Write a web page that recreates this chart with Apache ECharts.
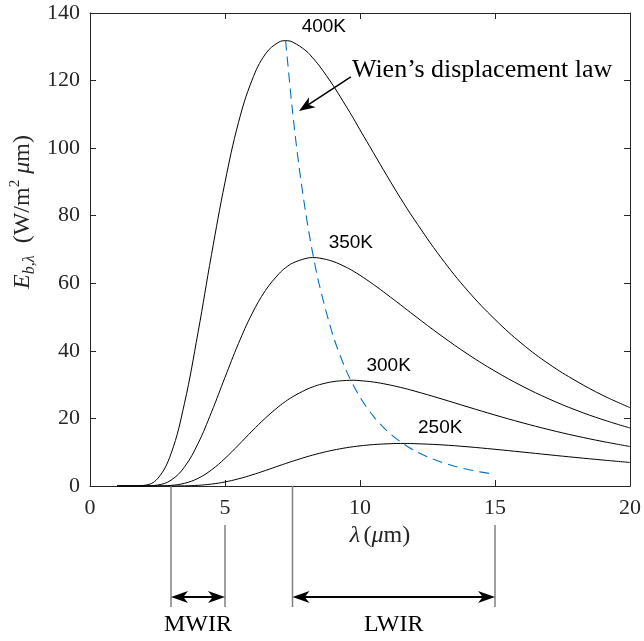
<!DOCTYPE html>
<html>
<head>
<meta charset="utf-8">
<script src="https://cdn.jsdelivr.net/npm/echarts@6/dist/echarts.min.js"></script>
<style>
html,body{margin:0;padding:0;background:#fff;}
#chart{width:644px;height:641px;}
</style>
</head>
<body>
<div id="chart"></div>
<script>
// wavelength samples (μm)
const lambda = [1, 1.5, 2, 2.5, 3, 3.5, 4, 4.5, 5, 5.5, 6, 6.5, 7, 7.25, 7.5, 8, 8.25, 8.5, 9, 9.5, 9.75, 10, 10.5, 11, 11.5, 12, 13, 14, 15, 16, 17, 18, 19, 20];
// spectral emissive power (W/m^2 μm)
const E400 = [0, 0.002, 0.18, 2.16, 9.55, 24.5, 45.4, 68.5, 89.9, 107.6, 120.1, 127.9, 131.4, 131.8, 131.4, 128.8, 126.7, 124.3, 118.6, 112.2, 108.9, 105.4, 98.6, 91.8, 85.2, 79.0, 67.6, 57.7, 49.3, 42.1, 36.1, 31.1, 26.8, 23.2];
const E350 = [0, 0, 0.014, 0.28, 1.72, 5.65, 12.57, 21.85, 32.16, 42.2, 50.96, 57.9, 62.84, 64.64, 65.95, 67.37, 67.6, 67.46, 66.47, 64.70, 63.6, 62.37, 59.65, 56.68, 53.65, 50.55, 44.55, 38.98, 33.99, 29.59, 25.77, 22.46, 19.62, 17.17];
const E300 = [0, 0, 0, 0.018, 0.176, 0.797, 2.265, 4.765, 8.17, 12.13, 16.25, 20.14, 23.58, 25.07, 26.39, 28.51, 29.33, 30.0, 30.88, 31.24, 31.3, 31.18, 30.77, 30.07, 29.19, 28.15, 25.83, 23.39, 21.0, 18.75, 16.68, 14.82, 13.16, 11.69];
const E250 = [0, 0, 0, 0, 0.007, 0.051, 0.206, 0.565, 1.20, 2.12, 3.28, 4.60, 5.98, 6.67, 7.33, 8.58, 9.15, 9.68, 10.60, 11.34, 11.63, 11.88, 12.26, 12.48, 12.6, 12.53, 12.19, 11.60, 10.86, 10.06, 9.24, 8.44, 7.68, 6.97];
// Wien's displacement law locus
const wienLambda = [7.245, 7.5, 7.75, 8, 8.25, 8.5, 9, 9.5, 10, 10.5, 11, 11.5, 12, 12.5, 13, 13.5, 14, 14.5, 14.8];
const wienE = [131.8, 110.9, 94.1, 80.3, 68.8, 59.3, 44.56, 34.0, 26.31, 20.61, 16.34, 13.08, 10.57, 8.62, 7.09, 5.87, 4.89, 4.10, 3.71];
// curve labels: [text, λ, E]
const curveLabels = [['400K', 8.66, 136], ['350K', 9.66, 72], ['300K', 11.06, 35.6], ['250K', 12.97, 17.3]];
// IR bands (μm)
const bandNames = ['MWIR', 'LWIR'];
const bandFrom = [3, 7.5];
const bandTo = [5, 15];
// Wien annotation: text anchor and arrow tail/tip in data units
const wienText = "Wien’s displacement law";
const wienTextAt = [9.7, 123.2];
const wienArrowTail = [9.66, 121.1];
const wienArrowTip = [7.74, 111];
// ticks
const xTicks = {min: 0, max: 20, interval: 5};
const yTicks = {min: 0, max: 140, interval: 20};

const pair = (xs, ys) => xs.map((x, i) => [x, ys[i]]);
const AX = '#262626';
const SERIF = '"Liberation Serif", "Times New Roman", serif';
const SANS = '"Liberation Sans", Arial, sans-serif';

const chart = echarts.init(document.getElementById('chart'), null, {renderer: 'canvas'});

function axisCommon(show, margin) {
  return {
    axisLine: {show: true, onZero: false, lineStyle: {color: AX, width: 1}},
    axisTick: {show: true, inside: true, length: 6, lineStyle: {color: AX, width: 1}},
    splitLine: {show: false},
    axisLabel: {show: show, color: AX, fontFamily: SERIF, fontSize: 22, margin: margin || 8}
  };
}

const curve = (name, ys) => ({
  name, type: 'line', data: pair(lambda, ys), showSymbol: false, symbol: 'none',
  smooth: 0.4, lineStyle: {color: '#000', width: 1}, z: 3
});

chart.setOption({
  animation: false,
  backgroundColor: '#fff',
  grid: {left: 90, right: 12, top: 13, bottom: 155, containLabel: false},
  xAxis: [
    Object.assign({type: 'value', position: 'bottom'}, xTicks, axisCommon(true, 11)),
    Object.assign({type: 'value', position: 'top'}, xTicks, axisCommon(false))
  ],
  yAxis: [
    Object.assign({type: 'value', position: 'left'}, yTicks, axisCommon(true, 10)),
    Object.assign({type: 'value', position: 'right'}, yTicks, axisCommon(false))
  ],
  series: [
    curve('400K', E400), curve('350K', E350), curve('300K', E300), curve('250K', E250),
    {name: 'Wien', type: 'line', data: pair(wienLambda, wienE), showSymbol: false, symbol: 'none',
     smooth: 0.3, lineStyle: {color: '#0072BD', width: 1.1, type: [10, 6]}, z: 4}
  ]
});

function px(p) { return chart.convertToPixel({xAxisIndex: 0, yAxisIndex: 0}, p); }

function arrowHead(tip, ang, len, half) {
  const c = Math.cos(ang), s = Math.sin(ang);
  const bx = tip[0] - c * len, by = tip[1] - s * len;
  const nx = tip[0] - c * len * 0.72, ny = tip[1] - s * len * 0.72;
  return {
    type: 'polygon', silent: true, z: 10,
    shape: {points: [tip, [bx - s * half, by + c * half], [nx, ny], [bx + s * half, by - c * half]]},
    style: {fill: '#000'}
  };
}

const g = [];
const origin = px([0, 0]);
const y0 = origin[1];

curveLabels.forEach(([t, lx, ly]) => {
  const p = px([lx, ly]);
  g.push({type: 'text', x: p[0], y: p[1], z: 10, silent: true,
    style: {text: t, fontFamily: SANS, fontSize: 19, fill: '#000', align: 'center', verticalAlign: 'middle'}});
});

const wt = px(wienTextAt);
g.push({type: 'text', x: wt[0], y: wt[1], z: 10, silent: true,
  style: {text: wienText, fontFamily: SERIF, fontSize: 26, fill: '#000', align: 'left', verticalAlign: 'middle'}});
const ta = px(wienArrowTail), tb = px(wienArrowTip);
const wang = Math.atan2(tb[1] - ta[1], tb[0] - ta[0]);
g.push({type: 'line', z: 10, silent: true,
  shape: {x1: ta[0], y1: ta[1], x2: tb[0] - Math.cos(wang) * 10, y2: tb[1] - Math.sin(wang) * 10},
  style: {stroke: '#000', lineWidth: 1.5}});
g.push(arrowHead(tb, wang, 16, 6));

bandNames.forEach((name, i) => {
  const a = px([bandFrom[i], 0])[0], b = px([bandTo[i], 0])[0];
  const yb = y0 + 121, ya = y0 + 111;
  g.push({type: 'line', z: 10, silent: true, shape: {x1: a, y1: y0, x2: a, y2: yb},
    style: {stroke: '#7f7f7f', lineWidth: 1.5}});
  g.push({type: 'line', z: 10, silent: true, shape: {x1: b, y1: y0 + 39, x2: b, y2: yb},
    style: {stroke: '#7f7f7f', lineWidth: 1.5}});
  g.push({type: 'line', z: 10, silent: true, shape: {x1: a + 10, y1: ya, x2: b - 10, y2: ya},
    style: {stroke: '#000', lineWidth: 2}});
  g.push(arrowHead([a, ya], Math.PI, 17, 6));
  g.push(arrowHead([b, ya], 0, 17, 6));
  g.push({type: 'text', x: (a + b) / 2, y: y0 + 139, z: 10, silent: true,
    style: {text: name, fontFamily: SERIF, fontSize: 24, fill: '#000', align: 'center', verticalAlign: 'middle'}});
});

g.push({type: 'text', x: 380, y: y0 + 50, z: 10, silent: true,
  style: {
    text: '{i|λ} {n|(}{i|μ}{n|m)}',
    align: 'center', verticalAlign: 'middle',
    rich: {
      i: {fontFamily: SERIF, fontStyle: 'italic', fontSize: 24, fill: AX},
      n: {fontFamily: SERIF, fontSize: 24, fill: AX}
    }
  }});
g.push({type: 'text', x: 23, y: 212, rotation: Math.PI / 2, z: 10, silent: true,
  style: {
    text: '{e|E}{s|b,λ}{n|  (W/m}{p|2}{n| }{i|μ}{n|m)}',
    align: 'center', verticalAlign: 'middle',
    rich: {
      e: {fontFamily: SERIF, fontStyle: 'italic', fontSize: 24, fill: AX, lineHeight: 30, verticalAlign: 'middle'},
      s: {fontFamily: SERIF, fontStyle: 'italic', fontSize: 16, fill: AX, lineHeight: 16, verticalAlign: 'bottom'},
      n: {fontFamily: SERIF, fontSize: 24, fill: AX, lineHeight: 30, verticalAlign: 'middle'},
      i: {fontFamily: SERIF, fontStyle: 'italic', fontSize: 24, fill: AX, lineHeight: 30, verticalAlign: 'middle'},
      p: {fontFamily: SERIF, fontSize: 15, fill: AX, lineHeight: 15, verticalAlign: 'top'}
    }
  }});

chart.setOption({graphic: g});
</script>
</body>
</html>
